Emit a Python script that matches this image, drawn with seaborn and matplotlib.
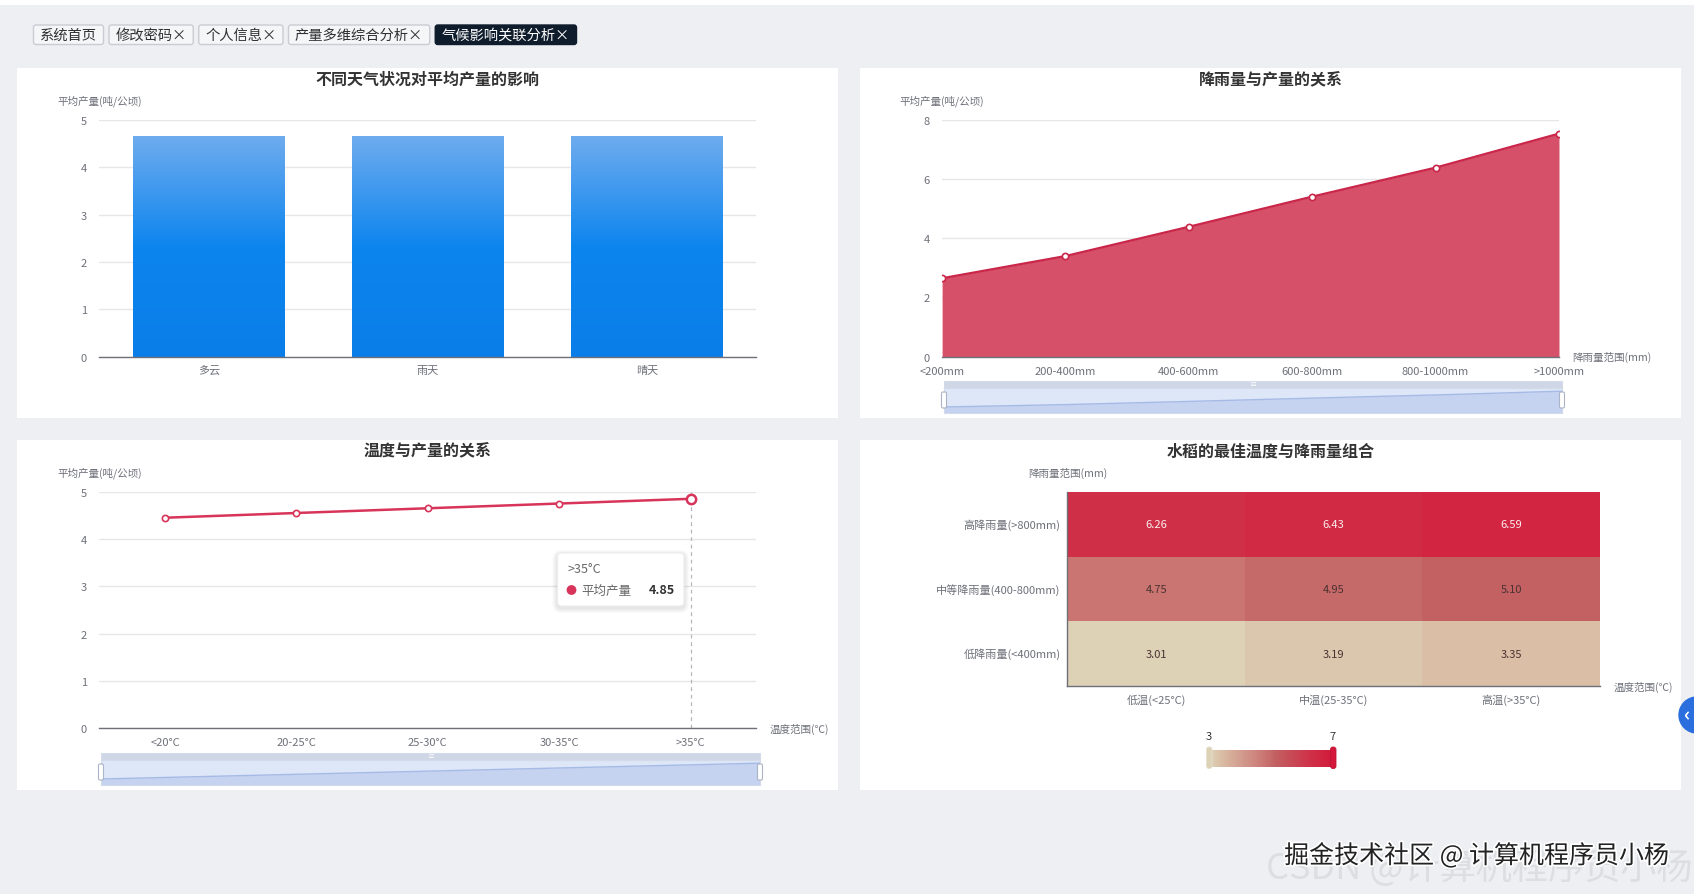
import numpy as np
import pandas as pd
import matplotlib
matplotlib.use('Agg')
import matplotlib.pyplot as plt
import matplotlib.patheffects as pe
import seaborn as sns
from matplotlib.patches import FancyBboxPatch, Circle
from matplotlib.colors import LinearSegmentedColormap, Normalize
from matplotlib.cm import ScalarMappable
from matplotlib.transforms import IdentityTransform

# ---- data ----
tabs = ['系统首页', '修改密码×', '个人信息×', '产量多维综合分析×', '气候影响关联分析×']

weather = ['多云', '雨天', '晴天']
weather_yield = [4.66, 4.66, 4.66]

rain_ranges = ['<200mm', '200-400mm', '400-600mm', '600-800mm', '800-1000mm', '>1000mm']
rain_yield = [2.65, 3.40, 4.39, 5.41, 6.39, 7.54]

temp_ranges = ['<20°C', '20-25°C', '25-30°C', '30-35°C', '>35°C']
temp_yield = [4.45, 4.55, 4.65, 4.75, 4.85]

heat_rows = ['高降雨量(>800mm)', '中等降雨量(400-800mm)', '低降雨量(<400mm)']
heat_cols = ['低温(<25°C)', '中温(25-35°C)', '高温(>35°C)']
heat_high = [6.26, 6.43, 6.59]
heat_mid = [4.75, 4.95, 5.10]
heat_low = [3.01, 3.19, 3.35]

# ---- page setup ----
W, H = 1694, 895
sns.set_theme(style='white')
plt.rcParams['font.family'] = ['Noto Sans CJK SC', 'DejaVu Sans']
plt.rcParams['axes.unicode_minus'] = False

AXIS = '#6e7079'
GRID = '#e6e6e6'
TITLE = '#333333'
PX = IdentityTransform()

fig = plt.figure(figsize=(W / 100, H / 100), dpi=100)
fig.patch.set_facecolor('#edeff2')


def rect(x0, y0, x1, y1):
    # pixel box (y from top) -> figure fraction
    return [x0 / W, 1 - y1 / H, (x1 - x0) / W, (y1 - y0) / H]


def box(x0, y0, x1, y1, style='square,pad=0', **kw):
    p = FancyBboxPatch((x0, H - y1), x1 - x0, y1 - y0, boxstyle=style,
                       transform=PX, **kw)
    fig.add_artist(p)
    return p


def ftext(x, y, s, **kw):
    return fig.text(x / W, 1 - y / H, s, **kw)


# top white strip + panels
box(0, 0, W, 6, fc='white', ec='none', zorder=-2)
for px0, py0 in [(17, 69), (860, 69), (17, 441), (860, 441)]:
    box(px0, py0, px0 + 821, py0 + 350, fc='white', ec='none', zorder=-1)

# tabs
renderer = fig.canvas.get_renderer()
tx = 33.5
for i, label in enumerate(tabs):
    active = i == len(tabs) - 1
    t = ftext(0, 35.6, label, fontsize=10.3, va='center', ha='left',
              color='white' if active else '#303133', zorder=3)
    tw = t.get_window_extent(renderer).width
    t.set_position(((tx + 6.5) / W, 1 - 35.6 / H))
    box(tx, 26, tx + tw + 13, 45.5, style='round,pad=0,rounding_size=2.5',
        fc='#0f1c2c' if active else '#f5f6f8',
        ec='#0f1c2c' if active else '#c9ccd2', lw=1, zorder=2)
    tx += tw + 13 + 5.5


def style_axes(ax, ymax, ystep):
    ax.set_facecolor('white')
    ax.set_ylim(0, ymax)
    ax.set_yticks(np.arange(0, ymax + ystep / 2, ystep))
    ax.grid(axis='y', color=GRID, lw=1)
    ax.grid(axis='x', visible=False)
    ax.set_axisbelow(True)
    for s in ['top', 'right', 'left']:
        ax.spines[s].set_visible(False)
    ax.spines['bottom'].set_color(AXIS)
    ax.spines['bottom'].set_linewidth(1)
    ax.tick_params(axis='y', length=0, labelsize=8, labelcolor=AXIS, pad=9)
    ax.tick_params(axis='x', which='both', length=0, labelsize=8,
                   labelcolor=AXIS, pad=6, color=AXIS)
    ax.set_xlabel('')
    ax.set_ylabel('')


def boundary_ticks(ax, n):
    ax.set_xticks(np.arange(-0.5, n, 1.0), minor=True)
    ax.tick_params(axis='x', which='minor', length=5, width=1, color=AXIS,
                   direction='out')


def yname(ax, s):
    ax.annotate(s, xy=(0, 1), xycoords='axes fraction', xytext=(0, 14),
                textcoords='offset points', ha='center', va='center',
                fontsize=7.6, color=AXIS)


def xname(ax, s):
    ax.annotate(s, xy=(1, 0), xycoords='axes fraction', xytext=(9.5, 0),
                textcoords='offset points', ha='left', va='center',
                fontsize=7.6, color=AXIS)


def data_zoom(x0, x1, y0, values):
    # echarts-like slider under the chart
    box(x0, y0, x1, y0 + 7, fc='#cfd6e6', ec='#d3dbea', lw=0.8, zorder=1)
    ftext((x0 + x1) / 2, y0 + 3.2, '≡', fontsize=5, color='white',
          ha='center', va='center', zorder=2)
    axz = fig.add_axes(rect(x0, y0 + 7, x1, y0 + 32))
    xs = np.arange(len(values))
    lo, hi = min(values), max(values)
    span = hi - lo
    axz.set_facecolor('#dde7f8')
    axz.fill_between(xs, values, lo - span, color='#c5d2f0', lw=0)
    sns.lineplot(x=xs, y=values, ax=axz, color='#a6bae6', lw=1)
    axz.set_xlim(0, len(values) - 1)
    axz.set_ylim(lo - 0.38 * span, hi + 0.2 * span)
    axz.set_xticks([])
    axz.set_yticks([])
    for s in axz.spines.values():
        s.set_color('#d3dbea')
        s.set_linewidth(0.8)
    for hx in (x0, x1):
        box(hx - 2.5, y0 + 11, hx + 2.5, y0 + 27, style='round,pad=0,rounding_size=1.5',
            fc='white', ec='#aab4c6', lw=0.8, zorder=3)


# ---- chart 1: weather vs yield ----
ax1 = fig.add_axes(rect(99.4, 121, 756.3, 357.6))
sns.barplot(x=weather, y=weather_yield, ax=ax1, width=0.69, color='#0c84ee',
            saturation=1, errorbar=None)
bar_cmap = LinearSegmentedColormap.from_list(
    'bar', [(0, '#0a7ee8'), (0.5, '#0d85ee'), (1, '#6eacef')])
grad = np.linspace(0, 1, 256).reshape(-1, 1)
for p in ax1.patches:
    bx, by, bw, bh = p.get_x(), p.get_y(), p.get_width(), p.get_height()
    im = ax1.imshow(grad, cmap=bar_cmap, origin='lower', aspect='auto',
                    extent=[bx, bx + bw, by, by + bh], zorder=2)
    im.set_clip_path(p)
ax1.set_xlim(-0.5, len(weather) - 0.5)
style_axes(ax1, 5, 1)
boundary_ticks(ax1, len(weather))
yname(ax1, '平均产量(吨/公顷)')
ftext(427.8, 80, '不同天气状况对平均产量的影响', fontsize=11.5, fontweight='bold',
      color=TITLE, ha='center', va='center')

# ---- chart 2: rainfall vs yield ----
ax2 = fig.add_axes(rect(942.1, 121, 1559, 357.6))
xr = np.arange(len(rain_ranges))
ax2.fill_between(xr, rain_yield, 0, color='#d6506a', lw=0, zorder=2)
sns.lineplot(x=xr, y=rain_yield, ax=ax2, color='#c9264a', lw=1.6, marker='o',
             markersize=4.5, markerfacecolor='white', markeredgecolor='#c9264a',
             markeredgewidth=1.2, zorder=3)
ax2.set_xlim(0, len(rain_ranges) - 1)
style_axes(ax2, 8, 2)
ax2.set_xticks(xr)
ax2.set_xticklabels(rain_ranges)
ax2.tick_params(axis='x', which='major', length=5, width=1, color=AXIS, pad=1.5)
yname(ax2, '平均产量(吨/公顷)')
xname(ax2, '降雨量范围(mm)')
ftext(1270.6, 80, '降雨量与产量的关系', fontsize=11.5, fontweight='bold',
      color=TITLE, ha='center', va='center')
data_zoom(944, 1562, 382, rain_yield)

# ---- chart 3: temperature vs yield ----
ax3 = fig.add_axes(rect(99.4, 492.7, 756.3, 729.3))
xt = np.arange(len(temp_ranges))
ax3.axvline(xt[-1], color='#b8b8b8', lw=0.9, ls=(0, (3, 3)), zorder=1)
sns.lineplot(x=xt, y=temp_yield, ax=ax3, color='#d8345a', lw=1.8, marker='o',
             markersize=4.5, markerfacecolor='white', markeredgecolor='#d8345a',
             markeredgewidth=1.2, zorder=3)
sns.scatterplot(x=xt[-1:], y=temp_yield[-1:], ax=ax3, s=45, color='white',
                edgecolor='#d8345a', linewidth=1.8, zorder=4)
ax3.set_xlim(-0.5, len(temp_ranges) - 0.5)
style_axes(ax3, 5, 1)
ax3.set_xticks(xt)
ax3.set_xticklabels(temp_ranges)
boundary_ticks(ax3, len(temp_ranges))
yname(ax3, '平均产量(吨/公顷)')
xname(ax3, '温度范围(℃)')
ftext(427.8, 451.6, '温度与产量的关系', fontsize=11.5, fontweight='bold',
      color=TITLE, ha='center', va='center')
data_zoom(101, 760, 754, temp_yield)

# tooltip on the last point
for k in range(1, 6):
    box(557.5 - k, 554 - k + 2, 684 + k, 607 + k + 2,
        style='round,pad=0,rounding_size=%g' % (4 + k), fc='black', ec='none',
        alpha=0.018, zorder=5)
box(557.5, 554, 684, 607, style='round,pad=0,rounding_size=4', fc='white',
    ec='#ececec', lw=0.8, zorder=6)
ftext(567, 569.5, temp_ranges[-1], fontsize=9, color='#666666', ha='left',
      va='center', zorder=7)
fig.add_artist(Circle((571.5, H - 591), 4.2, transform=PX, color='#d8345a', zorder=7))
ftext(581, 591, '平均产量', fontsize=9, color='#666666', ha='left', va='center', zorder=7)
ftext(675, 591, '%.2f' % temp_yield[-1], fontsize=9, color='#333333',
      fontweight='bold', ha='right', va='center', zorder=7)

# ---- chart 4: heatmap ----
heat = pd.DataFrame([heat_high, heat_mid, heat_low], index=heat_rows, columns=heat_cols)
heat_cmap = LinearSegmentedColormap.from_list(
    'rice', [(0, '#ddd1b6'), (0.1, '#d9bba3'), (0.44, '#ca7572'),
             (0.53, '#c25f61'), (0.82, '#cf2f47'), (1, '#d3183b')])
ax4 = fig.add_axes(rect(1067.4, 492.7, 1600, 687.1))
sns.heatmap(heat, ax=ax4, cmap=heat_cmap, vmin=3, vmax=7, annot=True, fmt='.2f',
            cbar=False, annot_kws={'fontsize': 8})
for t in ax4.texts:
    t.set_color('#fbeeee' if float(t.get_text()) > 6 else '#4a3232')
for s in ['left', 'bottom']:
    ax4.spines[s].set_visible(True)
    ax4.spines[s].set_color(AXIS)
    ax4.spines[s].set_linewidth(1)
ax4.tick_params(axis='both', which='major', length=0, labelsize=8,
                labelcolor=AXIS, pad=5)
ax4.set_yticklabels(heat_rows, rotation=0)
ax4.set_xticklabels(heat_cols, rotation=0)
ax4.set_xticks(np.arange(0, len(heat_cols) + 1), minor=True)
ax4.set_yticks(np.arange(0, len(heat_rows) + 1), minor=True)
ax4.tick_params(axis='both', which='minor', length=5, width=1, color=AXIS,
                direction='out')
ax4.set_xlabel('')
ax4.set_ylabel('')
yname(ax4, '降雨量范围(mm)')
xname(ax4, '温度范围(℃)')
ftext(1270.6, 451.6, '水稻的最佳温度与降雨量组合', fontsize=11.5, fontweight='bold',
      color=TITLE, ha='center', va='center')

# visual map under the heatmap
cax = fig.add_axes(rect(1210, 751, 1334, 768))
cb = fig.colorbar(ScalarMappable(norm=Normalize(3, 7), cmap=heat_cmap), cax=cax,
                  orientation='horizontal')
cb.outline.set_visible(False)
cax.set_xticks([])
box(1206.5, 748, 1212, 769.5, style='round,pad=0,rounding_size=2.5',
    fc=heat_cmap(0.0), ec='#e6e0d0', lw=0.6, zorder=3)
box(1330.5, 748, 1336, 769.5, style='round,pad=0,rounding_size=2.5',
    fc=heat_cmap(1.0), ec='#c01535', lw=0.6, zorder=3)
ftext(1209, 737, '3', fontsize=8, color='#333333', ha='center', va='center')
ftext(1333, 737, '7', fontsize=8, color='#333333', ha='center', va='center')

# floating side button
fig.add_artist(Circle((1697, H - 716), 18, transform=PX, color='#2b6fde', zorder=3))
ftext(1687, 716, '‹', fontsize=14, color='white', ha='center', va='center',
      fontweight='bold', zorder=4)

# watermarks
ftext(1692, 868, 'CSDN @计算机程序员小杨', fontsize=26, color='#dcdee1',
      ha='right', va='center', zorder=3)
ftext(1669, 857, '掘金技术社区 @ 计算机程序员小杨', fontsize=18, color='#222222',
      ha='right', va='center', zorder=4,
      path_effects=[pe.withStroke(linewidth=2.5, foreground='white')])

fig.savefig('out.png', dpi=100, facecolor=fig.get_facecolor())
